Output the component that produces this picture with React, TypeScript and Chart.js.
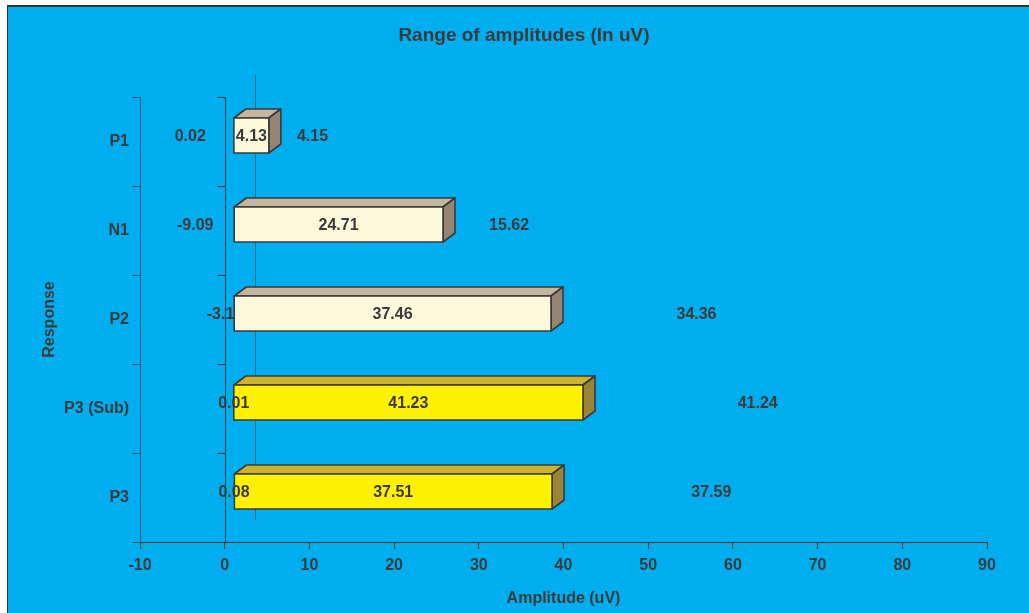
import React, { useEffect, useRef } from "react";
import { Chart, registerables } from "chart.js";

Chart.register(...registerables);

// Response components and their amplitude ranges (uV)
const categories = ["P1", "N1", "P2", "P3 (Sub)", "P3"];
const minValues = [0.02, -9.09, -3.1, 0.01, 0.08];
const rangeValues = [4.13, 24.71, 37.46, 41.23, 37.51];
const maxValues = [4.15, 15.62, 34.36, 41.24, 37.59];

// Value axis
const X_MIN = -10;
const X_MAX = 90;
const X_STEP = 10;

// Bar palettes: front, top, side
const frontColors = ["#FFF9DB", "#FFF9DB", "#FFF9DB", "#FFF100", "#FFF100"];
const topColors = ["#C5B59C", "#C5B59C", "#C5B59C", "#CBB32E", "#CBB32E"];
const sideColors = ["#968572", "#968572", "#968572", "#9A843C", "#9A843C"];

const FONT = "'Liberation Sans', Arial, Helvetica, sans-serif";
const TEXT = "#3a3a3a";
const BLUE = "#00ADEF";

// Oblique projection used for the pseudo-3D look
const FRONT_SHIFT = { x: 9, y: -6 };
const DEPTH = { x: 12, y: -9 };
const WALL = { x: 30, y: -22 };
const LABEL_PAD = 8;
const LABEL_CLEAR = 30;

const backgroundPlugin = {
  id: "panelBackground",
  beforeDraw(chart: any) {
    const { ctx, width, height } = chart;
    ctx.save();
    ctx.fillStyle = "#ffffff";
    ctx.fillRect(0, 0, width, height);
    ctx.fillStyle = "#333333";
    ctx.fillRect(7, 5, width - 7, height - 5);
    ctx.fillStyle = BLUE;
    ctx.fillRect(8, 7, width - 8, height - 7);
    ctx.restore();
  },
};

const bars3dPlugin = {
  id: "bars3d",
  beforeDatasetsDraw(chart: any) {
    const { ctx, chartArea, scales } = chart;
    const x0 = scales.x.getPixelForValue(0);
    ctx.save();
    // back wall line
    ctx.strokeStyle = "#236a8a";
    ctx.lineWidth = 1;
    ctx.beginPath();
    ctx.moveTo(Math.round(x0 + WALL.x) + 0.5, chartArea.top + WALL.y);
    ctx.lineTo(Math.round(x0 + WALL.x) + 0.5, chartArea.bottom + WALL.y);
    ctx.stroke();
    // zero line with category tick marks
    ctx.strokeStyle = "#2e3a40";
    const xl = Math.round(x0) + 0.5;
    ctx.beginPath();
    ctx.moveTo(xl, chartArea.top);
    ctx.lineTo(xl, chartArea.bottom);
    const n = categories.length;
    for (let i = 0; i < n; i++) {
      const yy = Math.round(chartArea.top + (i * (chartArea.bottom - chartArea.top)) / n) + 0.5;
      ctx.moveTo(xl - 8, yy);
      ctx.lineTo(xl, yy);
    }
    ctx.stroke();
    ctx.restore();
  },
  afterDatasetsDraw(chart: any) {
    const { ctx, scales } = chart;
    const meta = chart.getDatasetMeta(0);
    ctx.save();
    ctx.lineJoin = "round";
    ctx.strokeStyle = "#3a3a3a";
    ctx.lineWidth = 1.6;
    const poly = (pts: number[][], fill: string) => {
      ctx.beginPath();
      ctx.moveTo(pts[0][0], pts[0][1]);
      for (let k = 1; k < pts.length; k++) ctx.lineTo(pts[k][0], pts[k][1]);
      ctx.closePath();
      ctx.fillStyle = fill;
      ctx.fill();
      ctx.stroke();
    };
    const boxes: any[] = [];
    meta.data.forEach((el: any, i: number) => {
      const { x, y, base, height } = el.getProps(["x", "y", "base", "height"], true);
      const l = Math.min(base, x) + FRONT_SHIFT.x;
      const r = Math.max(base, x) + FRONT_SHIFT.x;
      const t = y - height / 2 + FRONT_SHIFT.y;
      const b = y + height / 2 + FRONT_SHIFT.y;
      poly(
        [[l, t], [r, t], [r + DEPTH.x, t + DEPTH.y], [l + DEPTH.x, t + DEPTH.y]],
        topColors[i]
      );
      poly(
        [[r, t], [r + DEPTH.x, t + DEPTH.y], [r + DEPTH.x, b + DEPTH.y], [r, b]],
        sideColors[i]
      );
      poly([[l, t], [r, t], [r, b], [l, b]], frontColors[i]);
      boxes.push({ l, r, cy: (t + b) / 2 });
    });

    // value labels: min, range, max
    ctx.font = `bold 16px ${FONT}`;
    ctx.fillStyle = TEXT;
    ctx.textAlign = "center";
    ctx.textBaseline = "middle";
    boxes.forEach((bx, i) => {
      const start = Math.max(minValues[i], 0);
      const rangeText = String(rangeValues[i]);
      const minText = String(minValues[i]);
      const maxText = String(maxValues[i]);
      const rc = (bx.l + bx.r) / 2;
      const rw = ctx.measureText(rangeText).width;
      const rLeft = rc - rw / 2;
      const rRight = rc + rw / 2;

      const mw = ctx.measureText(minText).width;
      let mc = scales.x.getPixelForValue(minValues[i] / 2) + FRONT_SHIFT.x;
      if (mc + mw / 2 > rLeft - LABEL_PAD) mc = rLeft - LABEL_CLEAR - mw / 2;

      const xw = ctx.measureText(maxText).width;
      let xc = scales.x.getPixelForValue(start + rangeValues[i] + maxValues[i] / 2) + FRONT_SHIFT.x;
      if (xc - xw / 2 < rRight + LABEL_PAD) xc = rRight + LABEL_CLEAR + xw / 2;

      ctx.fillText(minText, mc, bx.cy + 1);
      ctx.fillText(rangeText, rc, bx.cy + 1);
      ctx.fillText(maxText, xc, bx.cy + 1);
    });
    ctx.restore();
  },
};

export default function App() {
  const canvasRef = useRef<HTMLCanvasElement>(null);

  useEffect(() => {
    const canvas = canvasRef.current;
    if (!canvas) return;
    const tickFont = { family: FONT, size: 16, weight: "bold" as const };
    const chart = new Chart(canvas, {
      type: "bar",
      data: {
        labels: categories,
        datasets: [
          {
            data: categories.map((_, i) => {
              const start = Math.max(minValues[i], 0);
              return [start, start + rangeValues[i]];
            }) as any,
            backgroundColor: "rgba(0,0,0,0)",
            borderWidth: 0,
            barThickness: 35,
          },
        ],
      },
      options: {
        indexAxis: "y",
        responsive: false,
        animation: false,
        layout: { padding: { left: 61, right: 42, top: 0, bottom: 0 } },
        plugins: {
          legend: { display: false },
          tooltip: { enabled: false },
          title: {
            display: true,
            text: "Range of amplitudes (In uV)",
            color: TEXT,
            font: { family: FONT, size: 19, weight: "bold" },
            padding: { top: 24.6, bottom: 49.6 },
          },
        },
        scales: {
          x: {
            type: "linear",
            min: X_MIN,
            max: X_MAX,
            ticks: { stepSize: X_STEP, color: TEXT, font: tickFont, padding: 7 },
            grid: { drawOnChartArea: false, drawTicks: true, tickLength: 7, color: "#333333" },
            border: { color: "#333333", width: 1 },
            title: {
              display: true,
              text: "Amplitude (uV)",
              color: TEXT,
              font: tickFont,
              padding: { top: 0, bottom: 5 },
            },
            afterFit: (s: any) => {
              s.height = 71;
            },
          },
          y: {
            ticks: { color: TEXT, font: tickFont, padding: 3 },
            grid: { drawOnChartArea: false, drawTicks: true, tickLength: 8, color: "#2b5a70", offset: true },
            border: { color: "#2b5a70", width: 1 },
            title: {
              display: true,
              text: "Response",
              color: TEXT,
              font: tickFont,
              padding: { top: -21, bottom: 0 },
            },
            afterFit: (s: any) => {
              s.width = 79;
            },
          },
        },
      } as any,
      plugins: [backgroundPlugin, bars3dPlugin],
    });
    return () => chart.destroy();
  }, []);

  return (
    <div style={{ position: "fixed", left: 0, top: 0, width: 1029, height: 613 }}>
      <canvas ref={canvasRef} width={1029} height={613} style={{ display: "block" }} />
    </div>
  );
}
